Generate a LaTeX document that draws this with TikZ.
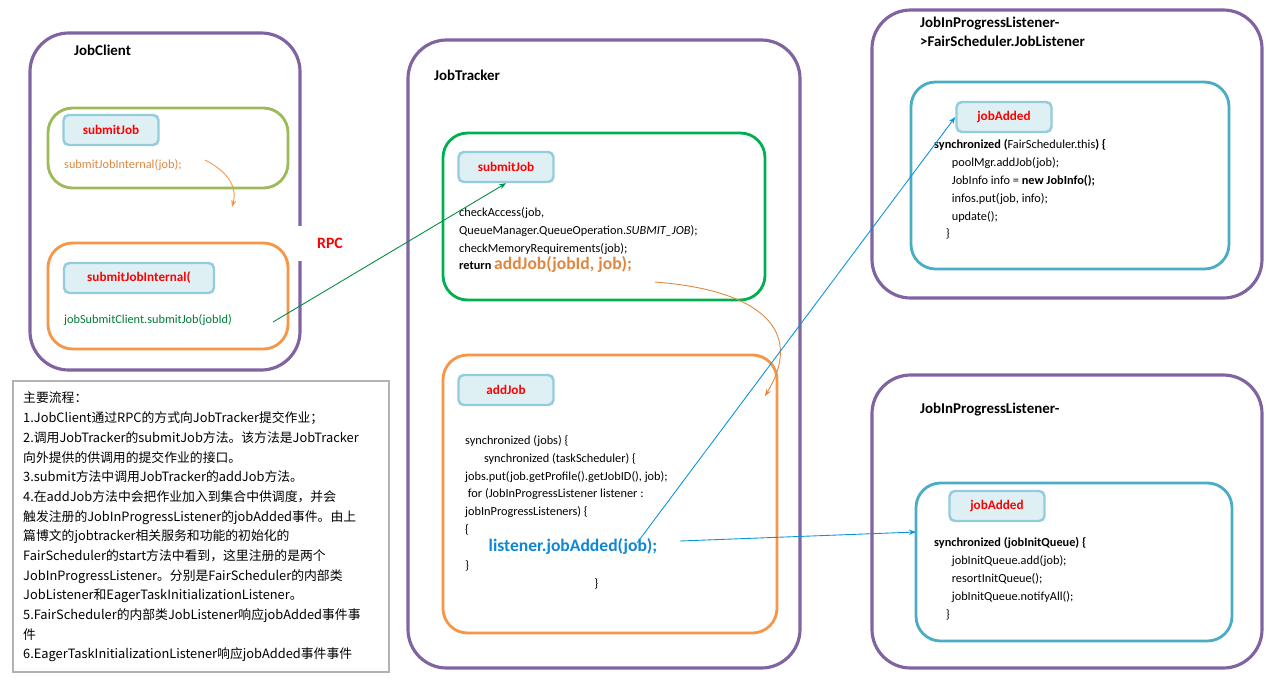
\documentclass[tikz,border=0pt]{standalone}
\usepackage{fontspec}
\setmainfont{Carlito}
\newfontfamily\cjk{Noto Sans CJK SC}
\usetikzlibrary{arrows.meta, positioning, calc}
\definecolor{purpleline}{RGB}{128,100,162}
\definecolor{oliveline}{RGB}{155,187,89}
\definecolor{orangeline}{RGB}{247,150,70}
\definecolor{aqualine}{RGB}{75,172,198}
\definecolor{greenline}{RGB}{0,176,80}
\tikzset{
  outer/.style={draw=purpleline, line width=1.8pt, rounded corners=22pt},
  inner/.style={line width=1.6pt, rounded corners=14pt},
  tag/.style={draw=aqualine!60, fill=aqualine!18, line width=1.4pt, rounded corners=3pt,
    minimum width=1.9cm, minimum height=0.6cm, font=\fontsize{7.5}{9}\selectfont\bfseries, text=red},
  title/.style={anchor=west, font=\fontsize{8.5}{11}\selectfont\bfseries, align=left},
  code/.style={anchor=north west, align=left, font=\fontsize{7}{10.2}\selectfont},
  link/.style={-{Stealth[length=4pt]}, line width=0.5pt}
}
\begin{document}
\begin{tikzpicture}[x=0.02cm, y=-0.02cm]
    \useasboundingbox (0,0) rectangle (1276,691);
    \fill[white] (0,0) rectangle (1276,691);
    % JobClient
    \draw[outer] (30,33) rectangle (300,370);
    \node[title] (jc) at (68,50) {JobClient};
    \draw[inner, draw=oliveline] (48,108) rectangle (288,188);
    \node[tag] (sj1) at (111,130) {submitJob};
    \node[code, text=orangeline!90!black] (sji) at (58,153) {submitJobInternal(job);};
    \draw[inner, draw=orangeline] (48,243) rectangle (288,349);
    \node[tag, minimum width=3cm] (sji2) at (139,278) {submitJobInternal(};
    \node[code, text=greenline!70!black] (jsc) at (58,308) {jobSubmitClient.submitJob(jobId)};
    \coordinate (c1) at (205,160);
    \coordinate (c2) at (232,207);
    \draw[-{Stealth[length=4pt]}, orangeline, line width=0.5pt] (c1) .. controls (225,170) and (238,185) .. (c2);
    \node[fill=white, minimum width=1.4cm, minimum height=0.7cm, font=\fontsize{9}{11}\selectfont\bfseries, text=red] (rpc) at (330,243) {RPC};
    % JobTracker
    \draw[outer] (408,40) rectangle (800,668);
    \node[title] (jt) at (428,75) {JobTracker};
    \draw[inner, draw=greenline] (443,133) rectangle (765,300);
    \node[tag] (sj2) at (506,167) {submitJob};
    \node[code] (sjc) at (453,201) {checkAccess(job,\\QueueManager.QueueOperation.\textit{SUBMIT\_JOB});\\checkMemoryRequirements(job);\\\textbf{return} {\fontsize{10}{10}\selectfont\bfseries\color{orangeline!90!black}addJob(jobId, job);}};
    \draw[inner, draw=orangeline] (443,355) rectangle (777,633);
    \node[tag] (aj) at (506,390) {addJob};
    \node[code] (ajc) at (459,429) {synchronized (jobs) \{\\\hspace*{3.2ex}synchronized (taskScheduler) \{\\jobs.put(job.getProfile().getJobID(), job);\\\ for (JobInProgressListener listener :\\jobInProgressListeners) \{\\\{\\\hspace*{4ex}{\fontsize{10}{10}\selectfont\bfseries\color{cyan!70!blue}listener.jobAdded(job);}\\\}\\\hspace*{22ex}\}};
    % JobListener
    \draw[outer] (872,10) rectangle (1262,298);
    \node[title] (jl) at (914,32) {JobInProgressListener-\\>FairScheduler.JobListener};
    \draw[inner, draw=aqualine] (911,82) rectangle (1229,269);
    \node[tag] (ja1) at (1004,117) {jobAdded};
    \node[code] (jlc) at (928,133) {\textbf{synchronized (}FairScheduler.this\textbf{) \{}\\\hspace*{3ex}poolMgr.addJob(job);\\\hspace*{3ex}JobInfo info = \textbf{new JobInfo();}\\\hspace*{3ex}infos.put(job, info);\\\hspace*{3ex}update();\\\hspace*{2ex}\}};
    % EagerTaskInitializationListener
    \draw[outer] (872,375) rectangle (1262,668);
    \node[title] (el) at (914,410) {JobInProgressListener-};
    \draw[inner, draw=aqualine] (916,483) rectangle (1232,641);
    \node[tag] (ja2) at (997,506) {jobAdded};
    \node[code] (elc) at (928,531) {\textbf{synchronized (jobInitQueue) \{}\\\hspace*{3ex}jobInitQueue.add(job);\\\hspace*{3ex}resortInitQueue();\\\hspace*{3ex}jobInitQueue.notifyAll();\\\hspace*{2ex}\}};
    % notes
    \draw[gray!60, line width=0.6pt] (13,381) rectangle (389,672);
    \node[anchor=north west, align=left, font=\cjk\fontsize{7.3}{11.2}\selectfont] (notes) at (17,386)
      {主要流程：\\1.JobClient通过RPC的方式向JobTracker提交作业；\\2.调用JobTracker的submitJob方法。该方法是JobTracker\\向外提供的供调用的提交作业的接口。\\3.submit方法中调用JobTracker的addJob方法。\\4.在addJob方法中会把作业加入到集合中供调度，并会\\触发注册的JobInProgressListener的jobAdded事件。由上\\篇博文的jobtracker相关服务和功能的初始化的\\FairScheduler的start方法中看到，这里注册的是两个\\JobInProgressListener。分别是FairScheduler的内部类\\JobListener和EagerTaskInitializationListener。\\5.FairScheduler的内部类JobListener响应jobAdded事件事\\件\\6.EagerTaskInitializationListener响应jobAdded事件事件};
    % connectors
    \coordinate (rpcs) at (273,322);
    \draw[link, greenline!80!black] (rpcs) -- (sj2.south);
    \coordinate (ret) at (655,282);
    \coordinate (aje) at (765,396);
    \draw[link, orangeline!90!black] (ret) .. controls (760,290) and (805,330) .. (aje);
    \coordinate (la1) at (637,543);
    \coordinate (la2) at (680,541);
    \draw[link, cyan!80!blue] (la1) -- (ja1.west);
    \draw[link, cyan!80!blue] (la2) -- (916,532);
\end{tikzpicture}
\end{document}
